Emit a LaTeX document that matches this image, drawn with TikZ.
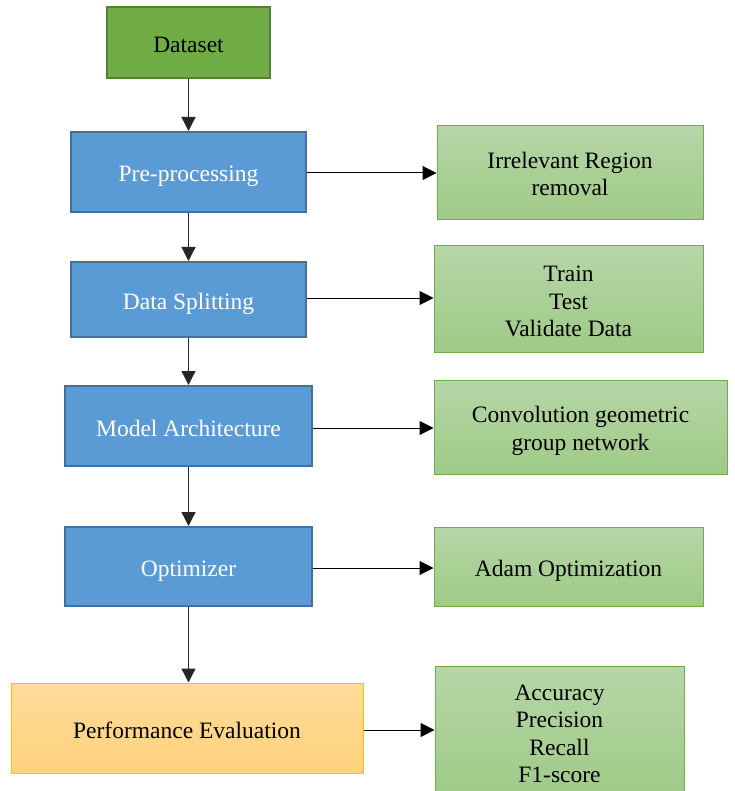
\documentclass[tikz,border=0pt]{standalone}
\usepackage{fontspec}
\setmainfont{Liberation Serif}
\usetikzlibrary{arrows.meta,shadings}
\definecolor{dsfill}{HTML}{70AD47}
\definecolor{dsdraw}{HTML}{548235}
\definecolor{bfill}{HTML}{5B9BD5}
\definecolor{bdraw}{HTML}{41719C}
\definecolor{gtop}{HTML}{B5D6A7}
\definecolor{gbot}{HTML}{9FCA87}
\definecolor{gdraw}{HTML}{70AD47}
\definecolor{ytop}{HTML}{FFDC9A}
\definecolor{ybot}{HTML}{FFD27C}
\definecolor{ydraw}{HTML}{FFC000}
\tikzset{
  base/.style={rectangle, inner sep=2pt, align=center, font=\fontsize{23.5}{27.5}\selectfont},
  oneline/.style={text height=20pt, text depth=0pt},
  multiline/.style={text depth=0pt},
  dsbox/.style={base, oneline, fill=dsfill, draw=dsdraw, line width=2pt, text=black},
  bluebox/.style={base, oneline, fill=bfill, draw=bdraw, line width=2pt, text=white},
  greenbox/.style={base, top color=gtop, bottom color=gbot, draw=gdraw, line width=1pt, text=black},
  yellowbox/.style={base, oneline, top color=ytop, bottom color=ybot, draw=ydraw, line width=1pt, text=black},
  conn/.style={draw=black!85, line width=1.3pt, -{Triangle[length=14pt,width=14pt]}},
  hconn/.style={draw=black, line width=1pt, -{Triangle[length=14pt,width=14pt]}}
}
\begin{document}
\begin{tikzpicture}[x=1pt,y=-1pt]
\useasboundingbox (0,0) rectangle (734,791);
\clip (0,0) rectangle (734,791);
\node[dsbox, minimum width=163pt, minimum height=71pt] (ds) at (188.5,42.5) {Dataset};
\node[bluebox, minimum width=235pt, minimum height=80pt] (pre) at (188.5,172) {Pre-processing};
\node[bluebox, minimum width=235pt, minimum height=75pt] (split) at (188.5,299.5) {Data Splitting};
\node[bluebox, minimum width=247pt, minimum height=80pt] (model) at (188.5,426) {Model Architecture};
\node[bluebox, minimum width=247pt, minimum height=79pt] (opt) at (188.5,566.5) {Optimizer};
\node[yellowbox, minimum width=352pt, minimum height=90pt] (perf) at (187,728) {Performance Evaluation};
\node[greenbox, multiline, text height=46pt, minimum width=266pt, minimum height=94pt] (irr) at (570,173) {Irrelevant Region\\removal};
\node[greenbox, multiline, text height=75pt, minimum width=269pt, minimum height=106pt] (ttv) at (568.5,299) {Train\\Test\\Validate Data};
\node[greenbox, multiline, text height=46.5pt, minimum width=293pt, minimum height=94pt] (conv) at (580.5,427) {Convolution geometric\\group network};
\node[greenbox, oneline, minimum width=269pt, minimum height=79pt] (adam) at (568.5,566.5) {Adam Optimization};
\node[greenbox, multiline, text height=99pt, minimum width=249pt, minimum height=134pt] (acc) at (559.5,733) {Accuracy\\Precision\\Recall\\F1-score};
\draw[conn] (ds.south) -- (pre.north);
\draw[conn] (pre.south) -- (split.north);
\draw[conn] (split.south) -- (model.north);
\draw[conn] (model.south) -- (opt.north);
\draw[conn] (opt.south) -- (opt.south |- perf.north);
\draw[hconn] ([yshift=-1pt]pre.east) -- ([yshift=-1pt]pre.east -| irr.west);
\draw[hconn] ([yshift=1.5pt]split.east) -- ([yshift=1.5pt]split.east -| ttv.west);
\draw[hconn] ([yshift=-2pt]model.east) -- ([yshift=-2pt]model.east -| conv.west);
\draw[hconn] ([yshift=-1.5pt]opt.east) -- ([yshift=-1.5pt]opt.east -| adam.west);
\draw[hconn] ([yshift=-2pt]perf.east) -- ([yshift=-2pt]perf.east -| acc.west);
\end{tikzpicture}
\end{document}
